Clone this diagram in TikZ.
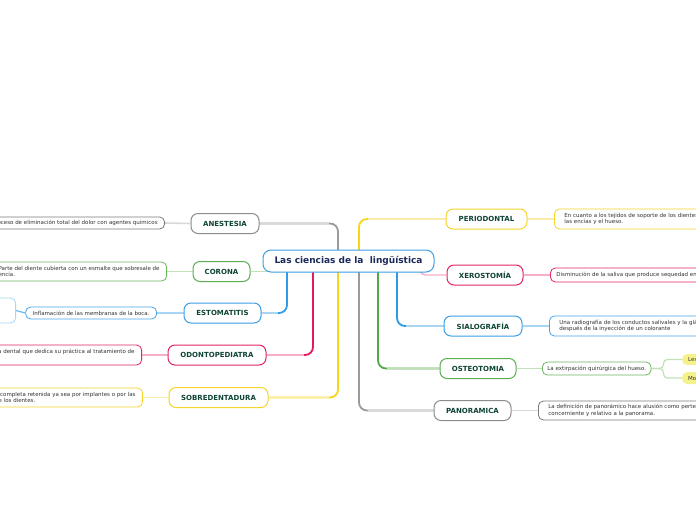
\documentclass[tikz,border=0pt]{standalone}
\usepackage{fontspec}
\setmainfont{DejaVu Sans}
\pgfdeclarelayer{bg}
\pgfsetlayers{bg,main}
\definecolor{grt}{HTML}{9A9A9A}
\definecolor{grl}{HTML}{D9D9D9}
\definecolor{grb}{HTML}{8C8C8C}
\definecolor{grd}{HTML}{7A7A7A}
\definecolor{gnt}{HTML}{55A84A}
\definecolor{gnl}{HTML}{C3E0BB}
\definecolor{gnb}{HTML}{5CAE52}
\definecolor{gnd}{HTML}{6AB85E}
\definecolor{blt}{HTML}{2F9BE6}
\definecolor{bll}{HTML}{A9D5F5}
\definecolor{blb}{HTML}{3B9FE5}
\definecolor{bld}{HTML}{4AA5E8}
\definecolor{pkt}{HTML}{E5195E}
\definecolor{pkl}{HTML}{F7AFC6}
\definecolor{pkb}{HTML}{E2246A}
\definecolor{pkd}{HTML}{E2246A}
\definecolor{ylt}{HTML}{F7D51D}
\definecolor{yll}{HTML}{FCECAA}
\definecolor{ylb}{HTML}{F5D42C}
\definecolor{yld}{HTML}{F5D42C}
\definecolor{ylf}{HTML}{F6F28B}
\definecolor{maintxt}{HTML}{0F4436}
\definecolor{ctxt}{HTML}{1A2A5A}
\definecolor{desctxt}{HTML}{333333}
\begin{document}
\begin{tikzpicture}[x=1pt,y=-1pt,
  mainbox/.style={draw, line width=1pt, rounded corners=7pt, fill=white, minimum height=20pt, inner sep=0pt, font=\fontsize{7}{8}\selectfont\bfseries, text=maintxt},
  descbox/.style={draw, line width=0.8pt, rounded corners=5pt, fill=white, inner xsep=7pt, inner ysep=3pt, align=left, font=\fontsize{5.5}{6.6}\selectfont, text=desctxt},
  trunk/.style={line width=1.8pt, rounded corners=8pt},
  twig/.style={line width=1.6pt},
]
\useasboundingbox (0,0) rectangle (696,520);
\clip (0,0) rectangle (696,520);

% centre
\node[draw=blb, line width=1pt, rounded corners=8pt, fill=white, minimum width=171pt, minimum height=22pt, inner sep=0pt, font=\fontsize{9}{10}\selectfont\bfseries, text=ctxt] (c) at (348.5,261) {Las ciencias de la\ \ lingüística};

% left main nodes
\node[mainbox, draw=grb, minimum width=68pt] (ane) at (225,223.5) {ANESTESIA};
\node[mainbox, draw=gnb, minimum width=57pt] (cor) at (221.5,271.5) {CORONA};
\node[mainbox, draw=blb, minimum width=77pt] (est) at (222.5,313) {ESTOMATITIS};
\node[mainbox, draw=pkb, minimum width=98pt] (odo) at (217,355) {ODONTOPEDIATRA};
\node[mainbox, draw=ylb, minimum width=99pt] (sob) at (218.5,397.5) {SOBREDENTADURA};

% right main nodes
\node[mainbox, draw=ylb, minimum width=81pt] (per) at (486.5,219) {PERIODONTAL};
\node[mainbox, draw=pkb, minimum width=76pt] (xer) at (485,275) {XEROSTOMÍA};
\node[mainbox, draw=blb, minimum width=78pt] (sia) at (483,326) {SIALOGRAFÍA};
\node[mainbox, draw=gnb, minimum width=76pt] (ost) at (478,368.5) {OSTEOTOMIA};
\node[mainbox, draw=grb, minimum width=77pt] (pan) at (472.5,410.5) {PANORAMICA};

% left descriptions
\node[descbox, draw=grd, anchor=east, minimum height=12pt] (aned) at (165,223) {Proceso de eliminación total del dolor con agentes químicos};
\node[descbox, draw=gnd, anchor=east, minimum height=19pt] (cord) at (167,271.5) {Parte del diente cubierta con un esmalte que sobresale de\\encía.};
\node[descbox, draw=bld, anchor=east, minimum height=12pt] (estd) at (157,313) {Inflamación de las membranas de la boca.};
\node[draw=bll, line width=0.8pt, rounded corners=5pt, fill=white, anchor=east, minimum width=40pt, minimum height=25pt] (estx) at (16,310.5) {};
\node[descbox, draw=pkd, anchor=east, minimum height=20pt] (odod) at (142,355) {Especialista dental que dedica su práctica al tratamiento de\\niños.};
\node[descbox, draw=yld, anchor=east, minimum height=19pt] (sobd) at (143,397.5) {Prótesis completa retenida ya sea por implantes o por las\\raíces de los dientes.};

% right descriptions
\node[descbox, draw=yld, anchor=west, minimum height=20pt, inner xsep=10pt] (perd) at (554,219) {En cuanto a los tejidos de soporte de los dientes, como\\las encías y el hueso.};
\node[descbox, draw=pkd, anchor=west, minimum height=14pt, inner xsep=6pt] (xerd) at (550,275) {Disminución de la saliva que produce sequedad en la boca.};
\node[descbox, draw=bld, anchor=west, minimum height=20pt, inner xsep=10pt] (siad) at (549,326) {Una radiografía de los conductos salivales y la glándula salival\\después de la inyección de un colorante};
\node[descbox, draw=gnd, anchor=west, minimum height=13pt, inner xsep=5pt] (ostd) at (542,368.5) {La extirpación quirúrgica del hueso.};
\node[descbox, draw=grd, anchor=west, minimum height=19pt, inner xsep=10pt] (pand) at (538,410.5) {La definición de panorámico hace alusión como perteneciente o\\concerniente y relativo a la panorama.};
\node[fill=ylf, rounded corners=5pt, anchor=west, minimum height=11pt, inner xsep=6pt, inner ysep=0pt, font=\fontsize{5.5}{6}\selectfont, text=desctxt] (le) at (682,359.5) {Lesiones};
\node[fill=ylf, rounded corners=5pt, anchor=west, minimum height=12pt, inner xsep=6pt, inner ysep=0pt, font=\fontsize{5.5}{6}\selectfont, text=desctxt] (mo) at (682,378) {Modelado};

% trunk anchor points on the centre box
\coordinate (gA) at ([xshift=-10.5pt,yshift=-3pt]c.north);
\coordinate (yA) at ([xshift=-10.5pt,yshift=3pt]c.south);
\coordinate (bA) at ([xshift=-61.5pt,yshift=3pt]c.south);
\coordinate (pA) at ([xshift=-35.5pt,yshift=3pt]c.south);
\coordinate (gC) at ([xshift=12pt]c.west);
\coordinate (yB) at ([xshift=10.5pt,yshift=-3pt]c.north);
\coordinate (gB) at ([xshift=10.5pt,yshift=3pt]c.south);
\coordinate (nB) at ([xshift=29.5pt,yshift=3pt]c.south);
\coordinate (bB) at ([xshift=48.5pt,yshift=3pt]c.south);
\coordinate (pB) at ([xshift=71.5pt,yshift=3pt]c.south);

\begin{pgfonlayer}{bg}
\clip (0,0) rectangle (696,520);
\fill[white] (0,0) rectangle (696,520);
% trunks, left
\draw[trunk, grt] (ane.east) -| (gA);
\draw[twig, grl, shorten >=9pt] (ane.east) -- (gA |- ane.east);
\draw[trunk, ylt] (sob.east) -| (yA);
\draw[twig, yll, shorten >=9pt] (sob.east) -- (yA |- sob.east);
\draw[trunk, blt] (est.east) -| (bA);
\draw[twig, bll, shorten >=9pt] (est.east) -- (bA |- est.east);
\draw[trunk, pkt] (odo.east) -| (pA);
\draw[twig, pkl, shorten >=9pt] (odo.east) -- (pA |- odo.east);
\draw[line width=1.4pt, gnl] (cor.east) -- (gC |- cor.east);
% trunks, right
\draw[trunk, ylt] (per.west) -| (yB);
\draw[twig, yll, shorten >=9pt] (per.west) -- (yB |- per.west);
\draw[trunk, grt] (pan.west) -| (gB);
\draw[twig, grl, shorten >=9pt] (pan.west) -- (gB |- pan.west);
\draw[trunk, gnt] (ost.west) -| (nB);
\draw[twig, gnl, shorten >=9pt] (ost.west) -- (nB |- ost.west);
\draw[trunk, blt] (sia.west) -| (bB);
\draw[twig, bll, shorten >=9pt] (sia.west) -- (bB |- sia.west);
\draw[line width=1.4pt, pkl, rounded corners=5pt] (xer.west) -| (pB);
% main to description
\draw[twig, grl] (ane.west) -- (aned.east);
\draw[line width=1.2pt, gnl] (cor.west) -- (cord.east);
\draw[line width=1.2pt, bll] (est.west) -- (estd.east);
\draw[line width=1.2pt, blt!70] (estd.west) -- (estx.east);
\draw[twig, pkl] (odo.west) -- (odod.east);
\draw[twig, yll] (sob.west) -- (sobd.east);
\draw[twig, yll] (per.east) -- (perd.west);
\draw[line width=1.2pt, pkl] (xer.east) -- (xerd.west);
\draw[line width=1.2pt, bll] (sia.east) -- (siad.west);
\draw[twig, gnl] (ost.east) -- (ostd.west);
\draw[twig, grl] (pan.east) -- (pand.west);
\draw[line width=1.2pt, gnl, rounded corners=4pt] (ostd.east) -- ([xshift=12pt]ostd.east) |- (le.west);
\draw[line width=1.2pt, gnl, rounded corners=4pt] (ostd.east) -- ([xshift=12pt]ostd.east) |- (mo.west);
\end{pgfonlayer}
\end{tikzpicture}
\end{document}
